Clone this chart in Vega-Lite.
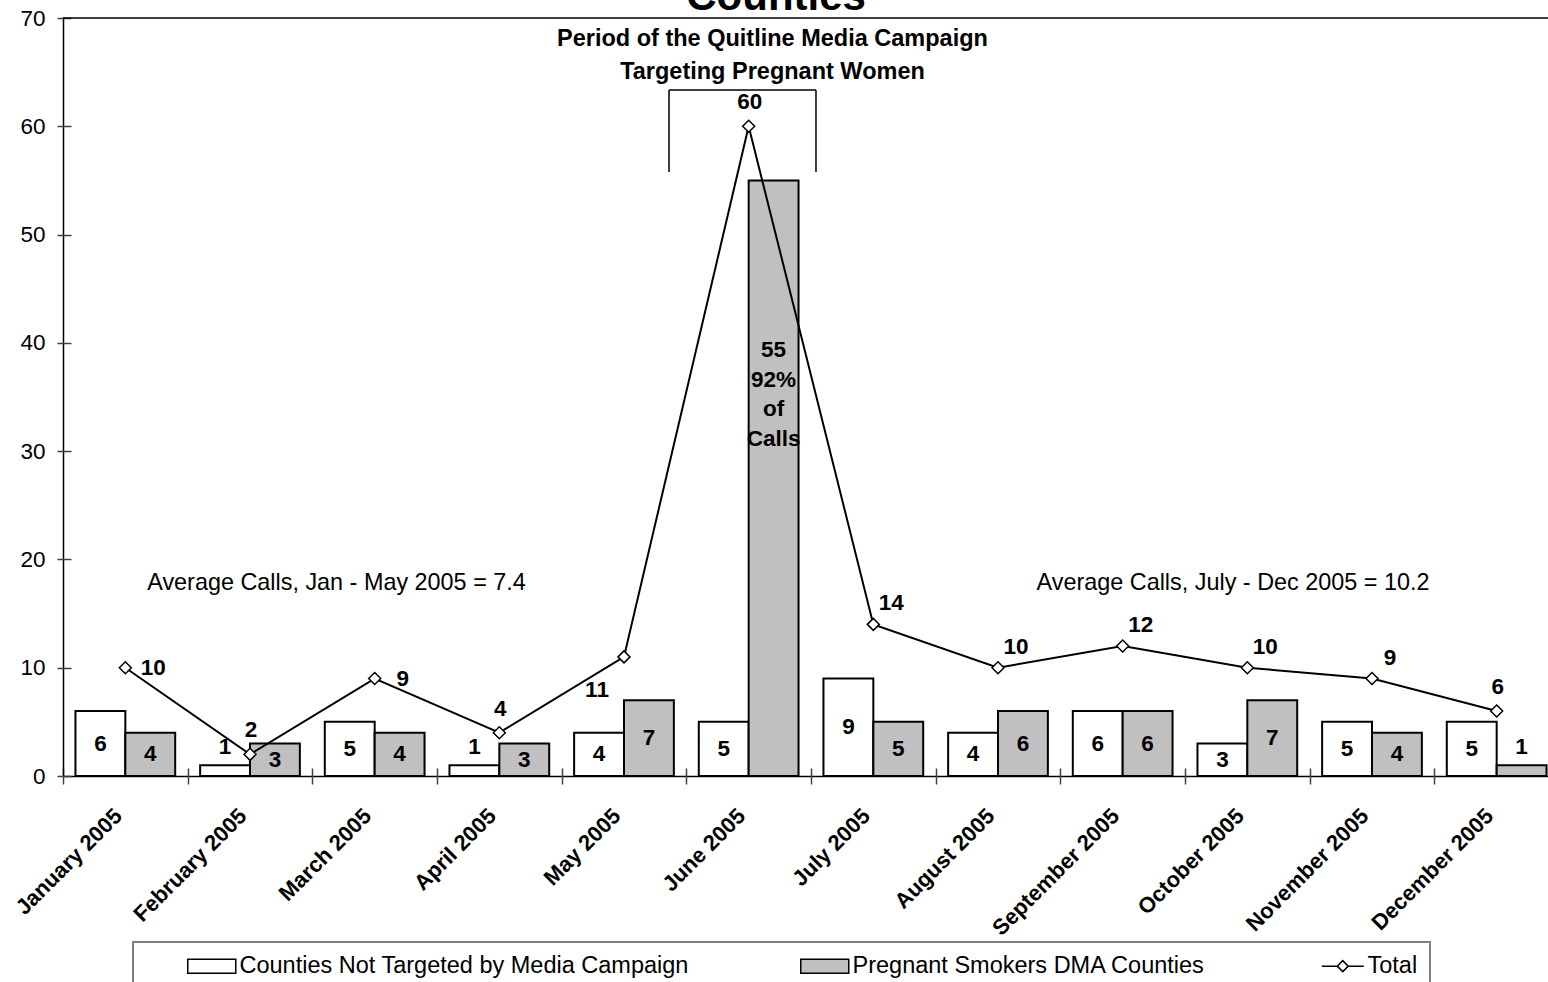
{
  "$schema": "https://vega.github.io/schema/vega-lite/v6.json",
  "width": 1485,
  "height": 758,
  "autosize": "none",
  "padding": {"left": 63, "top": 18, "right": 0, "bottom": 206},
  "background": "white",
  "config": {
    "view": {"stroke": null},
    "font": "Liberation Sans",
    "text": {"font": "Liberation Sans", "color": "black"}
  },
  "datasets": {
    "calls": [
      {"month": "January 2005", "series": "Counties Not Targeted by Media Campaign", "calls": 6},
      {"month": "February 2005", "series": "Counties Not Targeted by Media Campaign", "calls": 1},
      {"month": "March 2005", "series": "Counties Not Targeted by Media Campaign", "calls": 5},
      {"month": "April 2005", "series": "Counties Not Targeted by Media Campaign", "calls": 1},
      {"month": "May 2005", "series": "Counties Not Targeted by Media Campaign", "calls": 4},
      {"month": "June 2005", "series": "Counties Not Targeted by Media Campaign", "calls": 5},
      {"month": "July 2005", "series": "Counties Not Targeted by Media Campaign", "calls": 9},
      {"month": "August 2005", "series": "Counties Not Targeted by Media Campaign", "calls": 4},
      {"month": "September 2005", "series": "Counties Not Targeted by Media Campaign", "calls": 6},
      {"month": "October 2005", "series": "Counties Not Targeted by Media Campaign", "calls": 3},
      {"month": "November 2005", "series": "Counties Not Targeted by Media Campaign", "calls": 5},
      {"month": "December 2005", "series": "Counties Not Targeted by Media Campaign", "calls": 5},
      {"month": "January 2005", "series": "Pregnant Smokers DMA Counties", "calls": 4},
      {"month": "February 2005", "series": "Pregnant Smokers DMA Counties", "calls": 3},
      {"month": "March 2005", "series": "Pregnant Smokers DMA Counties", "calls": 4},
      {"month": "April 2005", "series": "Pregnant Smokers DMA Counties", "calls": 3},
      {"month": "May 2005", "series": "Pregnant Smokers DMA Counties", "calls": 7},
      {"month": "June 2005", "series": "Pregnant Smokers DMA Counties", "calls": 55},
      {"month": "July 2005", "series": "Pregnant Smokers DMA Counties", "calls": 5},
      {"month": "August 2005", "series": "Pregnant Smokers DMA Counties", "calls": 6},
      {"month": "September 2005", "series": "Pregnant Smokers DMA Counties", "calls": 6},
      {"month": "October 2005", "series": "Pregnant Smokers DMA Counties", "calls": 7},
      {"month": "November 2005", "series": "Pregnant Smokers DMA Counties", "calls": 4},
      {"month": "December 2005", "series": "Pregnant Smokers DMA Counties", "calls": 1},
      {"month": "January 2005", "series": "Total", "calls": 10},
      {"month": "February 2005", "series": "Total", "calls": 2},
      {"month": "March 2005", "series": "Total", "calls": 9},
      {"month": "April 2005", "series": "Total", "calls": 4},
      {"month": "May 2005", "series": "Total", "calls": 11},
      {"month": "June 2005", "series": "Total", "calls": 60},
      {"month": "July 2005", "series": "Total", "calls": 14},
      {"month": "August 2005", "series": "Total", "calls": 10},
      {"month": "September 2005", "series": "Total", "calls": 12},
      {"month": "October 2005", "series": "Total", "calls": 10},
      {"month": "November 2005", "series": "Total", "calls": 9},
      {"month": "December 2005", "series": "Total", "calls": 6}
    ]
  },
  "layer": [
    {
      "data": {"name": "calls"},
      "encoding": {
        "x": {
          "field": "month", "type": "nominal", "title": null,
          "scale": {
            "domain": ["January 2005", "February 2005", "March 2005", "April 2005", "May 2005", "June 2005", "July 2005", "August 2005", "September 2005", "October 2005", "November 2005", "December 2005"],
            "range": [0, 1496], "paddingInner": 0.2, "paddingOuter": 0.1
          },
          "axis": {
            "orient": "bottom", "ticks": false, "tickSize": 0, "grid": false,
            "domainColor": "black", "domainWidth": 1.5,
            "labelAngle": -45, "labelAlign": "right", "labelBaseline": "middle",
            "labelPadding": 36, "labelOffset": -7, "labelFont": "Liberation Sans", "labelFontSize": 22,
            "labelFontWeight": "bold", "labelColor": "black", "labelLimit": 300, "labelOverlap": false
          }
        },
        "y": {
          "field": "calls", "type": "quantitative", "title": null,
          "scale": {"domain": [0, 70], "nice": false},
          "axis": {
            "orient": "left", "values": [0, 10, 20, 30, 40, 50, 60, 70],
            "ticks": false, "tickSize": 0, "grid": false,
            "domainColor": "black", "domainWidth": 1.5,
            "labelPadding": 18, "labelFont": "Liberation Sans", "labelFontSize": 22.5, "labelColor": "black"
          }
        }
      },
      "layer": [
        {
          "transform": [{"filter": "datum.series !== 'Total'"}],
          "mark": {"type": "bar", "stroke": "black", "strokeWidth": 2},
          "encoding": {
            "xOffset": {"field": "series", "type": "nominal", "scale": {"domain": ["Counties Not Targeted by Media Campaign", "Pregnant Smokers DMA Counties"], "paddingInner": 0, "paddingOuter": 0}},
            "fill": {"field": "series", "type": "nominal", "scale": {"domain": ["Counties Not Targeted by Media Campaign", "Pregnant Smokers DMA Counties", "Total"], "range": ["white", "#C0C0C0", "white"]}}
          }
        },
        {
          "transform": [
            {"filter": "datum.series !== 'Total' && datum.calls >= 2 && !(datum.month === 'June 2005' && datum.series === 'Pregnant Smokers DMA Counties')"},
            {"calculate": "datum.calls / 2", "as": "mid"}
          ],
          "mark": {"type": "text", "fontSize": 22.5, "fontWeight": "bold", "align": "center", "baseline": "middle"},
          "encoding": {
            "xOffset": {"field": "series", "type": "nominal"},
            "y": {"field": "mid", "type": "quantitative", "title": null},
            "text": {"field": "calls", "type": "quantitative"}
          }
        },
        {
          "transform": [{"filter": "datum.series !== 'Total' && datum.calls < 2"}],
          "mark": {"type": "text", "fontSize": 22.5, "fontWeight": "bold", "align": "center", "baseline": "alphabetic", "dy": -11},
          "encoding": {
            "xOffset": {"field": "series", "type": "nominal"},
            "text": {"field": "calls", "type": "quantitative"}
          }
        },
        {
          "transform": [
            {"filter": "datum.month === 'June 2005' && datum.series === 'Pregnant Smokers DMA Counties'"},
            {"calculate": "[toString(datum.calls), '92%', 'of', 'Calls']", "as": "note"}
          ],
          "mark": {"type": "text", "fontSize": 22.5, "fontWeight": "bold", "align": "center", "baseline": "top", "lineHeight": 29.5, "dy": 159},
          "encoding": {
            "xOffset": {"field": "series", "type": "nominal"},
            "text": {"field": "note"}
          }
        },
        {
          "transform": [{"filter": "datum.series === 'Total'"}],
          "mark": {"type": "line", "stroke": "black", "strokeWidth": 2}
        },
        {
          "transform": [{"filter": "datum.series === 'Total'"}],
          "mark": {"type": "point", "shape": "diamond", "size": 144, "filled": true, "fill": "white", "stroke": "black", "strokeWidth": 1.5, "opacity": 1}
        },
        {
          "transform": [{"filter": "datum.series === 'Total'"}, {"filter": {"field": "month", "oneOf": ["January 2005", "March 2005"]}}],
          "mark": {"type": "text", "fontSize": 22.5, "fontWeight": "bold", "align": "center", "baseline": "middle", "dx": 28},
          "encoding": {"text": {"field": "calls", "type": "quantitative"}}
        },
        {
          "transform": [{"filter": "datum.series === 'Total'"}, {"filter": {"field": "month", "oneOf": ["February 2005", "April 2005", "June 2005", "December 2005"]}}],
          "mark": {"type": "text", "fontSize": 22.5, "fontWeight": "bold", "align": "center", "baseline": "middle", "dx": 1, "dy": -24},
          "encoding": {"text": {"field": "calls", "type": "quantitative"}}
        },
        {
          "transform": [{"filter": "datum.series === 'Total'"}, {"filter": {"field": "month", "oneOf": ["July 2005", "August 2005", "September 2005", "October 2005", "November 2005"]}}],
          "mark": {"type": "text", "fontSize": 22.5, "fontWeight": "bold", "align": "center", "baseline": "middle", "dx": 18, "dy": -21},
          "encoding": {"text": {"field": "calls", "type": "quantitative"}}
        },
        {
          "transform": [{"filter": "datum.series === 'Total'"}, {"filter": {"field": "month", "oneOf": ["May 2005"]}}],
          "mark": {"type": "text", "fontSize": 22.5, "fontWeight": "bold", "align": "center", "baseline": "middle", "dx": -27, "dy": 33},
          "encoding": {"text": {"field": "calls", "type": "quantitative"}}
        },
        {
          "mark": {"type": "point", "filled": true, "opacity": 0, "stroke": "black", "strokeWidth": 1.5},
          "encoding": {
            "fill": {
              "field": "series", "type": "nominal",
              "scale": {"domain": ["Counties Not Targeted by Media Campaign", "Pregnant Smokers DMA Counties", "Total"], "range": ["white", "#C0C0C0", "white"]},
              "legend": {
                "title": " ", "titleOrient": "left", "titleFontSize": 1, "titlePadding": 41,
                "orient": "none", "legendX": 70, "legendY": 924,
                "direction": "horizontal", "columns": 3, "columnPadding": 108,
                "symbolSize": 400, "symbolStrokeColor": "black", "symbolStrokeWidth": 1.5, "symbolOpacity": 1,
                "labelFont": "Liberation Sans", "labelFontSize": 23.5, "labelColor": "black", "labelOffset": 30, "labelLimit": 600,
                "padding": 12, "strokeColor": "#808080",
                "encode": {
                  "symbols": {"update": {"opacity": {"value": 1}, "stroke": {"value": "black"}, "strokeWidth": {"value": 1.5}}},
                  "legend": {"update": {"strokeWidth": {"value": 2}}}
                }
              }
            },
            "shape": {
              "field": "series", "type": "nominal",
              "scale": {
                "domain": ["Counties Not Targeted by Media Campaign", "Pregnant Smokers DMA Counties", "Total"],
                "range": ["M-1,-0.7H3.8V0.7H-1Z", "M-1,-0.7H3.8V0.7H-1Z", "M-0.4,0H1.15M2.25,0H3.8M1.7,-0.55L2.25,0L1.7,0.55L1.15,0Z"]
              },
              "legend": {
                "title": " ", "titleOrient": "left", "titleFontSize": 1, "titlePadding": 41,
                "orient": "none", "legendX": 70, "legendY": 924,
                "direction": "horizontal", "columns": 3, "columnPadding": 108,
                "symbolSize": 400, "symbolStrokeColor": "black", "symbolStrokeWidth": 1.5, "symbolOpacity": 1,
                "labelFont": "Liberation Sans", "labelFontSize": 23.5, "labelColor": "black", "labelOffset": 30, "labelLimit": 600,
                "padding": 12, "strokeColor": "#808080",
                "encode": {
                  "symbols": {"update": {"opacity": {"value": 1}, "stroke": {"value": "black"}, "strokeWidth": {"value": 1.5}}},
                  "legend": {"update": {"strokeWidth": {"value": 2}}}
                }
              }
            }
          }
        }
      ]
    },
    {
      "data": {"values": [{}]},
      "layer": [
        {
          "mark": {"type": "rule", "stroke": "black", "strokeWidth": 1.5},
          "encoding": {
            "x": {
              "datum": 0, "type": "quantitative", "title": null,
              "scale": {"domain": [0, 12], "range": [0, 1496], "nice": false, "zero": false},
              "axis": {"orient": "bottom", "values": [0, 1, 2, 3, 4, 5, 6, 7, 8, 9, 10, 11, 12], "domain": false, "labels": false, "grid": false, "tickSize": 16, "offset": -8, "tickColor": "#404040", "tickWidth": 1.5, "title": null}
            },
            "x2": {"datum": 12},
            "y": {
              "datum": 70, "type": "quantitative", "title": null,
              "scale": {"domain": [0, 70], "nice": false},
              "axis": {"orient": "left", "values": [0, 10, 20, 30, 40, 50, 60, 70], "domain": false, "labels": false, "grid": false, "tickSize": 14, "offset": -8, "tickColor": "#404040", "tickWidth": 1.5, "title": null}
            }
          }
        },
        {
          "mark": {"type": "rule", "stroke": "black", "strokeWidth": 1.5},
          "encoding": {"x": {"datum": 4.861, "type": "quantitative"}, "y": {"datum": 55.78, "type": "quantitative"}, "y2": {"datum": 63.35}}
        },
        {
          "mark": {"type": "rule", "stroke": "black", "strokeWidth": 1.5},
          "encoding": {"x": {"datum": 6.04, "type": "quantitative"}, "y": {"datum": 55.78, "type": "quantitative"}, "y2": {"datum": 63.35}}
        },
        {
          "mark": {"type": "rule", "stroke": "black", "strokeWidth": 1.5},
          "encoding": {"x": {"datum": 4.861, "type": "quantitative"}, "x2": {"datum": 6.04}, "y": {"datum": 63.35, "type": "quantitative"}}
        },
        {
          "mark": {"type": "text", "text": "Counties", "fontSize": 42, "fontWeight": "bold", "align": "center", "baseline": "alphabetic"},
          "encoding": {"x": {"datum": 5.72, "type": "quantitative"}, "y": {"datum": 70.74, "type": "quantitative"}}
        },
        {
          "mark": {"type": "text", "text": ["Period of the Quitline Media Campaign", "Targeting Pregnant Women"], "fontSize": 23.5, "fontWeight": "bold", "align": "center", "baseline": "alphabetic", "lineHeight": 33},
          "encoding": {"x": {"datum": 5.691, "type": "quantitative"}, "y": {"datum": 67.41, "type": "quantitative"}}
        },
        {
          "mark": {"type": "text", "text": "Average Calls, Jan - May 2005 = 7.4", "fontSize": 23.4, "align": "center", "baseline": "alphabetic"},
          "encoding": {"x": {"datum": 2.194, "type": "quantitative"}, "y": {"datum": 17.18, "type": "quantitative"}}
        },
        {
          "mark": {"type": "text", "text": "Average Calls, July - Dec 2005 = 10.2", "fontSize": 23.4, "align": "center", "baseline": "alphabetic"},
          "encoding": {"x": {"datum": 9.385, "type": "quantitative"}, "y": {"datum": 17.18, "type": "quantitative"}}
        }
      ]
    }
  ],
  "resolve": {"scale": {"x": "independent", "y": "independent"}}
}
